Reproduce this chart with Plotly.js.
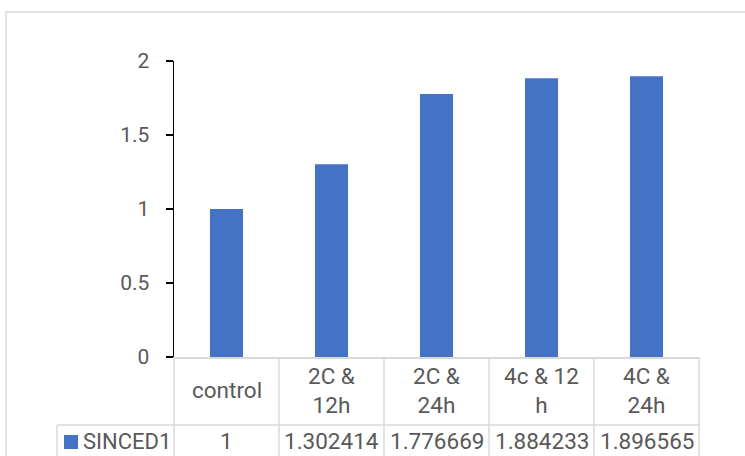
<!DOCTYPE html>
<html>
<head>
<meta charset="utf-8">
<script src="https://cdn.plot.ly/plotly-3.0.1.min.js"></script>
<style>html,body{margin:0;padding:0;background:#fff;}#chart{width:745px;height:456px;}</style>
</head>
<body>
<div id="chart"></div>
<script>
var categories = ["control", "2C &<br>12h", "2C &<br>24h", "4c & 12<br>h", "4C &<br>24h"];
var seriesName = "SINCED1";
var values = [1, 1.302414, 1.776669, 1.884233, 1.896565];
var yTicks = [0, 0.5, 1, 1.5, 2];
var yTickLabels = ["0", "0.5", "1", "1.5", "2"];

var W = 745, H = 456;
var L = 174, R = 46, T = 61, B = 99;
var pw = W - L - R, ph = H - T - B;
function px(x) { return (x - L) / pw; }
function py(y) { return (H - B - y) / ph; }

var n = categories.length;
var gridColor = "#d9d9d9";
var textColor = "#595959";
var font = "Roboto, Arial, sans-serif";
var tableSize = 22.5;

var shapes = [];
// outer chart border
shapes.push({type: "rect", xref: "paper", yref: "paper",
  x0: px(6), x1: px(760), y0: py(470), y1: py(12),
  line: {color: gridColor, width: 1.5}, fillcolor: "rgba(0,0,0,0)", layer: "below"});
// table vertical lines
for (var k = 0; k <= n; k++) {
  shapes.push({type: "line", xref: "paper", yref: "paper",
    x0: k / n, x1: k / n, y0: 0, y1: py(470),
    line: {color: gridColor, width: 1.5}});
}
// table left edge of legend cell
shapes.push({type: "line", xref: "paper", yref: "paper",
  x0: px(57), x1: px(57), y0: py(425), y1: py(470),
  line: {color: gridColor, width: 1.5}});
// row separator
shapes.push({type: "line", xref: "paper", yref: "paper",
  x0: px(57), x1: 1, y0: py(425), y1: py(425),
  line: {color: gridColor, width: 1.5}});
// legend key square
shapes.push({type: "rect", xref: "paper", yref: "paper",
  x0: px(64), x1: px(78), y0: py(449), y1: py(435),
  line: {width: 0}, fillcolor: "#4472C4"});

var annotations = [];
for (var i = 0; i < n; i++) {
  annotations.push({xref: "x", yref: "paper", x: i, y: py(390),
    text: categories[i], showarrow: false, align: "center",
    xanchor: "center", yanchor: "middle",
    font: {family: font, size: tableSize, color: textColor}});
  annotations.push({xref: "x", yref: "paper", x: i, y: py(441),
    text: String(values[i]), showarrow: false,
    xanchor: "center", yanchor: "middle",
    font: {family: font, size: tableSize, color: textColor}});
}
annotations.push({xref: "paper", yref: "paper", x: px(81), y: py(441),
  text: seriesName, showarrow: false, xanchor: "left", yanchor: "middle",
  font: {family: font, size: 22, color: textColor}});

var trace = {
  type: "bar",
  x: [0, 1, 2, 3, 4],
  y: values,
  name: seriesName,
  marker: {color: "#4472C4"},
  hoverinfo: "none"
};

var layout = {
  width: W, height: H,
  margin: {l: L, r: R, t: T, b: B, pad: 0, autoexpand: false},
  paper_bgcolor: "#ffffff",
  plot_bgcolor: "#ffffff",
  showlegend: false,
  bargap: 0.685,
  xaxis: {range: [-0.5, 4.5], showticklabels: false, ticks: "", showgrid: false,
    zeroline: false, showline: true, linecolor: gridColor, linewidth: 1.5, fixedrange: true},
  yaxis: {range: [0, 2], tickvals: yTicks, ticktext: yTickLabels, ticks: "outside",
    ticklen: 7, tickwidth: 1.5, tickcolor: "#000000", showgrid: false, zeroline: false,
    showline: true, linecolor: "#000000", linewidth: 1.5, ticklabelstandoff: 12,
    tickfont: {family: font, size: 21, color: textColor}, fixedrange: true},
  shapes: shapes,
  annotations: annotations
};

Plotly.newPlot("chart", [trace], layout, {displayModeBar: false, staticPlot: true});
</script>
</body>
</html>
